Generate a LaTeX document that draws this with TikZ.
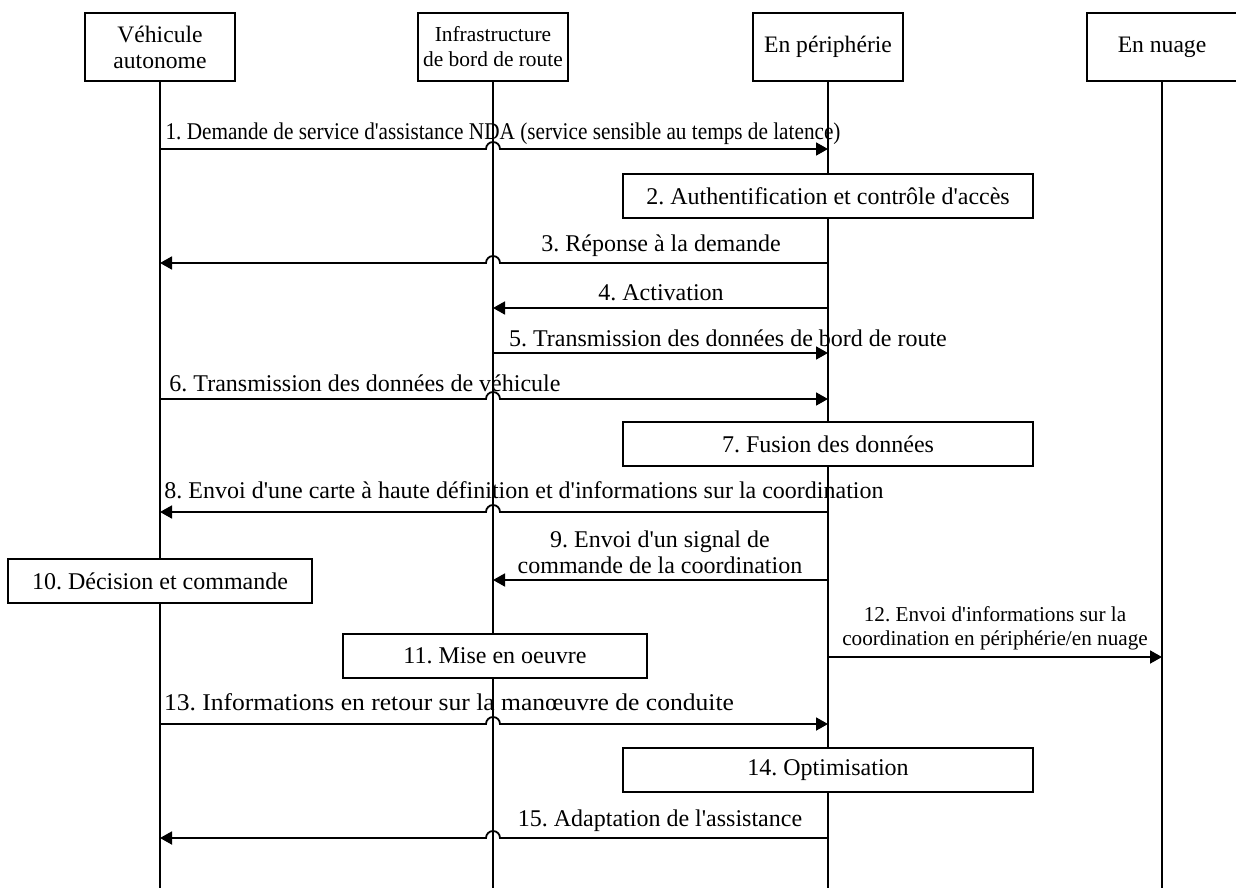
\documentclass[tikz,border=0pt]{standalone}
\usepackage{fontspec}
\setmainfont{Liberation Serif}[Ligatures=TeXOff]
\newfontfamily\narrowserif{Liberation Serif}[Ligatures=TeXOff, FakeStretch=0.885]
\newfontfamily\wideserif{Liberation Serif}[Ligatures=TeXOff, FakeStretch=1.065]
\usetikzlibrary{arrows.meta, positioning, calc}

\tikzset{
  actor/.style={draw, line width=0.8pt, minimum width=75pt, minimum height=34pt,
    align=center, inner sep=2pt, font=\fontsize{11.8}{13}\selectfont},
  lifeline/.style={line width=0.55pt},
  msg/.style={line width=0.9pt, -{Triangle[length=6pt,width=6.5pt]}},
  lbl/.style={align=center, inner sep=1pt, font=\fontsize{12}{12.8}\selectfont},
  smalllbl/.style={align=center, inner sep=1pt, font=\fontsize{10.6}{12}\selectfont},
  stepbox/.style={draw, fill=white, line width=0.8pt, minimum height=22pt,
    inner sep=2pt, font=\fontsize{12}{13}\selectfont},
}

\begin{document}
\frenchspacing
\begin{tikzpicture}[x=0.5pt, y=-0.5pt]
  \useasboundingbox (0,0) rectangle (1236,888);

  % participants
  \node[actor] (veh) at (160,47) {Véhicule\\autonome};
  \node[actor, font=\fontsize{10.7}{12.5}\selectfont] (rsu) at (493,47) {Infrastructure\\de bord de route};
  \node[actor] (edge) at (828,47) {En périphérie};
  \node[actor] (cloud) at (1162,47) {En nuage};

  % lifelines
  \foreach \a in {veh,rsu,edge,cloud}{
    \coordinate (\a-end) at (\a |- 0,888);
    \draw[lifeline] (\a.south) -- (\a-end);
  }

  % 1
  \node[lbl, font=\fontsize{12}{12.8}\narrowserif] (m1) at (503,134) {1. Demande de service d'assistance NDA (service sensible au temps de latence)};
  \draw[msg] (veh |- 0,149) -- ([xshift=-3.5pt]rsu |- 0,149) arc[start angle=180, end angle=0, radius=3.5pt] -- (edge |- 0,149);
  % 2
  \node[stepbox, minimum width=205pt] (s2) at (828,196) {2. Authentification et contrôle d'accès};
  % 3
  \node[lbl] (m3) at (661,246) {3. Réponse à la demande};
  \draw[msg] (edge |- 0,263) -- ([xshift=3.5pt]rsu |- 0,263) arc[start angle=0, end angle=180, radius=3.5pt] -- (veh |- 0,263);
  % 4
  \node[lbl] (m4) at (661,293) {4. Activation};
  \draw[msg] (edge |- 0,308) -- (rsu |- 0,308);
  % 5
  \node[lbl] (m5) at (728,338) {5. Transmission des données de bord de route};
  \draw[msg] (rsu |- 0,353) -- (edge |- 0,353);
  % 6
  \node[lbl] (m6) at (365,383) {6. Transmission des données de véhicule};
  \draw[msg] (veh |- 0,399) -- ([xshift=-3.5pt]rsu |- 0,399) arc[start angle=180, end angle=0, radius=3.5pt] -- (edge |- 0,399);
  % 7
  \node[stepbox, minimum width=205pt] (s7) at (828,444) {7. Fusion des données};
  % 8
  \node[lbl] (m8) at (524,490) {8. Envoi d'une carte à haute définition et d'informations sur la coordination};
  \draw[msg] (edge |- 0,512) -- ([xshift=3.5pt]rsu |- 0,512) arc[start angle=0, end angle=180, radius=3.5pt] -- (veh |- 0,512);
  % 9
  \node[lbl] (m9) at (660,552) {9. Envoi d'un signal de\\commande de la coordination};
  \draw[msg] (edge |- 0,580) -- (rsu |- 0,580);
  % 10
  \node[stepbox, minimum width=152pt] (s10) at (160,581) {10. Décision et commande};
  % 11
  \node[stepbox, minimum width=152pt] (s11) at (495,656) {11. Mise en oeuvre};
  % 12
  \node[smalllbl] (m12) at (995,628) {12. Envoi d'informations sur la\\coordination en périphérie/en nuage};
  \draw[msg] (edge |- 0,657) -- (cloud |- 0,657);
  % 13
  \node[lbl, font=\fontsize{12}{12.8}\wideserif] (m13) at (449,702) {13. Informations en retour sur la manœuvre de conduite};
  \draw[msg] (veh |- 0,724) -- ([xshift=-3.5pt]rsu |- 0,724) arc[start angle=180, end angle=0, radius=3.5pt] -- (edge |- 0,724);
  % 14
  \node[stepbox, minimum width=205pt] (s14) at (828,770) {14. Optimisation};
  % 15
  \node[lbl] (m15) at (660,821) {15. Adaptation de l'assistance};
  \draw[msg] (edge |- 0,838) -- ([xshift=3.5pt]rsu |- 0,838) arc[start angle=0, end angle=180, radius=3.5pt] -- (veh |- 0,838);
\end{tikzpicture}
\end{document}
